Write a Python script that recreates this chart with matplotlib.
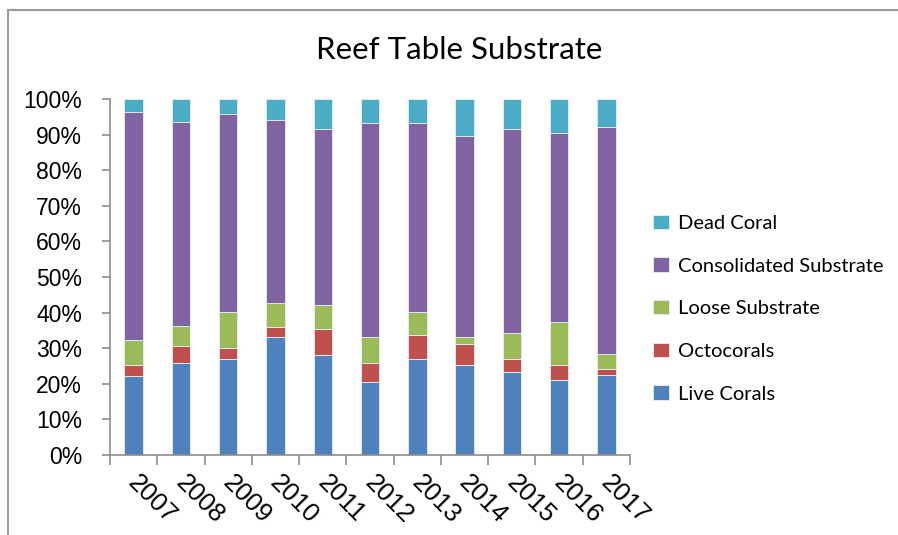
import numpy as np
import matplotlib.pyplot as plt
import matplotlib.transforms as mtrans
from matplotlib.lines import Line2D
from matplotlib.ticker import PercentFormatter, FixedLocator

years = ['2007', '2008', '2009', '2010', '2011', '2012',
         '2013', '2014', '2015', '2016', '2017']

# percent cover per category, bottom to top of each stack
live_corals = [22.3, 25.8, 26.9, 33.2, 28.0, 20.6, 26.9, 25.4, 23.2, 21.1, 22.6]
octocorals = [3.0, 4.7, 3.1, 2.7, 7.3, 5.2, 6.8, 5.8, 3.7, 4.3, 1.7]
loose_substrate = [6.9, 5.8, 10.1, 6.8, 6.9, 7.4, 6.4, 2.0, 7.4, 12.1, 4.2]
consolidated = [64.1, 57.3, 55.8, 51.5, 49.3, 60.0, 53.1, 56.3, 57.3, 53.0, 63.6]
dead_coral = [3.7, 6.4, 4.1, 5.8, 8.5, 6.8, 6.8, 10.5, 8.4, 9.5, 7.9]

series = [
    ('Live Corals', live_corals, '#4F81BD'),
    ('Octocorals', octocorals, '#C0504D'),
    ('Loose Substrate', loose_substrate, '#9BBB59'),
    ('Consolidated Substrate', consolidated, '#8064A2'),
    ('Dead Coral', dead_coral, '#4BACC6'),
]

fig = plt.figure(figsize=(8.98, 5.35), dpi=100)
ax = fig.add_axes([0.1225, 0.1495, 0.5791, 0.6654])

x = np.arange(len(years))
data = np.array([s[1] for s in series])
totals = data.sum(axis=0)
bottom = np.zeros(len(years))
handles = []
for (name, vals, col), row in zip(series, data):
    frac = row / totals
    h = ax.bar(x, frac, 0.39, bottom=bottom, color=col, edgecolor='#e8eef6',
               linewidth=0.6, label=name)
    handles.append(h)
    bottom += frac

ax.set_xlim(-0.5, len(years) - 0.5)
ax.set_ylim(0, 1)
ax.set_yticks(np.arange(0, 1.01, 0.1))
ax.yaxis.set_major_formatter(PercentFormatter(1.0, decimals=0))

ax.set_xticks(x)
ax.set_xticklabels(years, rotation=-45, ha='left', va='top',
                   rotation_mode='anchor')
ax.xaxis.set_minor_locator(FixedLocator(np.arange(-0.5, len(years), 1)))
ax.tick_params(axis='x', which='major', length=0, pad=11)
ax.tick_params(axis='x', which='minor', length=7, width=1.2, color='#8c8c8c')
ax.tick_params(axis='y', length=6, width=1.2, color='#8c8c8c', pad=14)

for lab in ax.get_yticklabels():
    lab.set_fontfamily('Liberation Sans')
    lab.set_fontsize(16.5)
shift = mtrans.ScaledTranslation(0.07, 0, fig.dpi_scale_trans)
for lab in ax.get_xticklabels():
    lab.set_fontfamily('Liberation Sans')
    lab.set_fontsize(18.5)
    lab.set_transform(lab.get_transform() + shift)

for side in ['top', 'right']:
    ax.spines[side].set_visible(False)
for side in ['left', 'bottom']:
    ax.spines[side].set_color('#8c8c8c')
    ax.spines[side].set_linewidth(1.2)

fig.text(0.511, 0.907, 'Reef Table Substrate', ha='center', va='center',
         fontfamily='Lato', fontsize=22.5)

leg = fig.legend(handles[::-1], [s[0] for s in series][::-1],
                 loc='center left', bbox_to_anchor=(0.707, 0.423),
                 frameon=False, prop={'family': 'Lato', 'size': 14.5},
                 handlelength=0.8, handleheight=0.7, labelspacing=1.27,
                 handletextpad=0.45)

# chart border, open at the right and bottom
fig.add_artist(Line2D([8 / 898, 1.0], [1 - 10 / 535, 1 - 10 / 535],
                      transform=fig.transFigure, color='#9a9a9a', lw=1.5))
fig.add_artist(Line2D([8 / 898, 8 / 898], [0.0, 1 - 10 / 535],
                      transform=fig.transFigure, color='#9a9a9a', lw=1.5))

fig.savefig('out.png', dpi=100)
